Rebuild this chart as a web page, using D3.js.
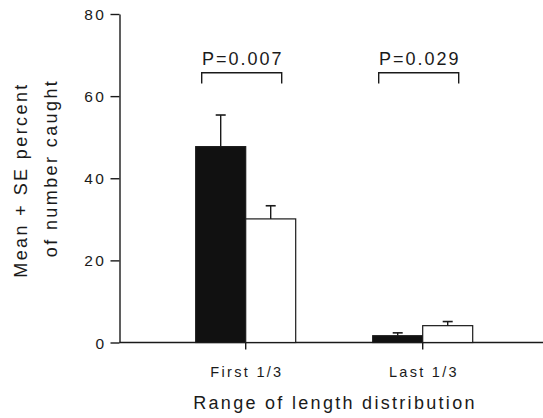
<!DOCTYPE html>
<html>
<head>
<meta charset="utf-8">
<script src="https://d3js.org/d3.v7.min.js"></script>
<style>
	body{margin:0;background:#fff}
	text{font-family:"Liberation Sans",Arial,sans-serif;fill:#1a1a1a}
	.axis path,.axis line{stroke:#1a1a1a;stroke-width:1.4}
</style>
</head>
<body>
<div id="my_dataviz"></div>
<script>
// data
var categories=["First 1/3","Last 1/3"]
var blackMeans=[47.7,1.65]
var blackSE=[7.7,0.7]
var whiteMeans=[30.1,4.1]
var whiteSE=[3.2,1.0]
var pLabels=["P=0.007","P=0.029"]
var yTicks=[0,20,40,60,80]

class BarGraph{
	constructor(){
		this.width=543
		this.height=418
	}
	draw(){
		var svg=d3.select("#my_dataviz").append("svg")
			.attr("width",this.width)
			.attr("height",this.height)

		// scales
		var x=d3.scaleBand()
			.domain(categories)
			.range([157.2,511.2])
		var sub=d3.scaleBand()
			.domain(["black","white"])
			.range([-50,50])
		var y=d3.scaleLinear()
			.domain([0,80])
			.range([342.5,14])

		var center=(c)=>x(c)+x.bandwidth()/2

		// y axis
		var yAxis=svg.append("g")
			.attr("class","axis")
			.attr("transform","translate(119.5,0)")
			.call(d3.axisLeft(y).tickValues(yTicks).tickSize(9).tickSizeOuter(0).tickPadding(4))
		yAxis.selectAll("text")
			.style("font-size","15.5px")
			.style("letter-spacing","2.5px")
			.attr("dy","0.36em")

		// baseline runs to the right edge
		svg.append("line")
			.attr("x1",119.5).attr("x2",543)
			.attr("y1",y(0)).attr("y2",y(0))
			.attr("stroke","#1a1a1a").attr("stroke-width",1.4)

		// x axis, ticks + labels only
		var xAxis=svg.append("g")
			.attr("class","axis")
			.attr("transform","translate(0,"+y(0)+")")
			.call(d3.axisBottom(x).tickSize(7).tickPadding(17))
		xAxis.select(".domain").remove()
		xAxis.selectAll("text")
			.style("font-size","14.5px")
			.style("letter-spacing","2.3px")
			.attr("dx","1.2px")

		// bars
		var series=[
			{key:"black",means:blackMeans,se:blackSE,fill:"#111"},
			{key:"white",means:whiteMeans,se:whiteSE,fill:"#fff"}
		]
		series.forEach(function(s){
			var g=svg.append("g")
			g.selectAll("rect")
				.data(categories)
				.enter()
				.append("rect")
				.attr("x",(c)=>center(c)+sub(s.key))
				.attr("width",sub.bandwidth())
				.attr("y",(c,i)=>y(s.means[i]))
				.attr("height",(c,i)=>y(0)-y(s.means[i]))
				.attr("fill",s.fill)
				.attr("stroke","#1a1a1a")
				.attr("stroke-width",1.2)

			// error bars, upper only
			g.selectAll(".err")
				.data(categories)
				.enter()
				.append("line")
				.attr("x1",(c)=>center(c)+sub(s.key)+sub.bandwidth()/2)
				.attr("x2",(c)=>center(c)+sub(s.key)+sub.bandwidth()/2)
				.attr("y1",(c,i)=>y(s.means[i]))
				.attr("y2",(c,i)=>y(s.means[i]+s.se[i]))
				.attr("stroke","#1a1a1a").attr("stroke-width",1.4)
			g.selectAll(".cap")
				.data(categories)
				.enter()
				.append("line")
				.attr("x1",(c)=>center(c)+sub(s.key)+sub.bandwidth()/2-5)
				.attr("x2",(c)=>center(c)+sub(s.key)+sub.bandwidth()/2+5)
				.attr("y1",(c,i)=>y(s.means[i]+s.se[i]))
				.attr("y2",(c,i)=>y(s.means[i]+s.se[i]))
				.attr("stroke","#1a1a1a").attr("stroke-width",1.6)
		})

		// significance brackets
		var br=svg.append("g")
		br.selectAll("path")
			.data(categories)
			.enter()
			.append("path")
			.attr("d",function(c){
				var m=center(c)
				return "M"+(m-44)+","+y(63.1)+"V"+y(65.7)+"H"+(m+36)+"V"+y(63.1)
			})
			.attr("fill","none")
			.attr("stroke","#1a1a1a").attr("stroke-width",1.4)
		br.selectAll("text")
			.data(categories)
			.enter()
			.append("text")
			.attr("x",(c)=>center(c)-3)
			.attr("y",y(67.5))
			.attr("text-anchor","middle")
			.style("font-size","18px")
			.style("letter-spacing","2px")
			.text((c,i)=>pLabels[i])

		// axis titles
		svg.append("text")
			.attr("x",335)
			.attr("y",409)
			.attr("text-anchor","middle")
			.style("font-size","18px")
			.style("letter-spacing","2.3px")
			.text("Range of length distribution")

		svg.append("text")
			.attr("transform","translate(27,180) rotate(-90)")
			.attr("text-anchor","middle")
			.style("font-size","18px")
			.style("letter-spacing","2.4px")
			.text("Mean + SE percent")
		svg.append("text")
			.attr("transform","translate(57,168) rotate(-90)")
			.attr("text-anchor","middle")
			.style("font-size","18px")
			.style("letter-spacing","2.4px")
			.text("of number caught")
	}
}

var barGraph=new BarGraph()
barGraph.draw()
</script>
</body>
</html>
